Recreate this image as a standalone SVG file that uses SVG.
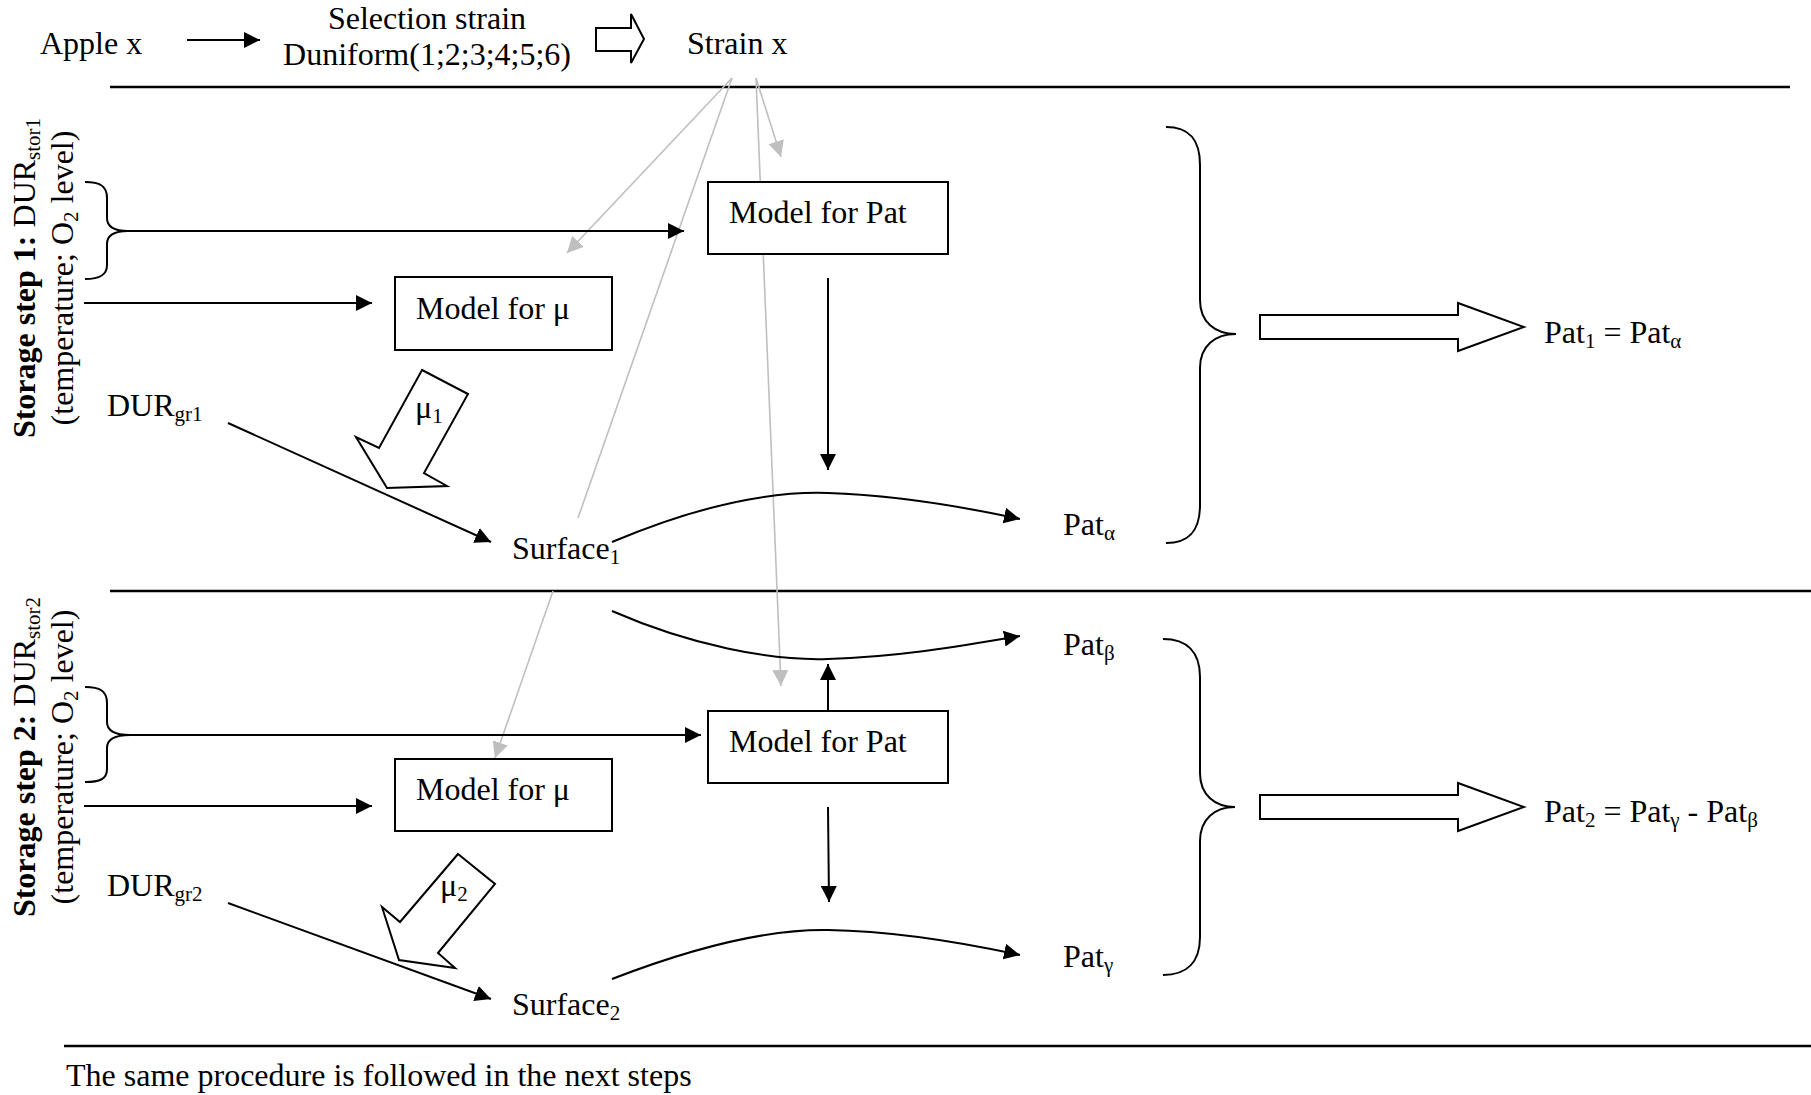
<svg xmlns="http://www.w3.org/2000/svg" width="1811" height="1095" viewBox="0 0 1811 1095">
  <style>
    text { font-family: "Liberation Serif", "Times New Roman", serif; font-size: 32px; fill: #000; }
    .sub { font-size: 21px; }
    .bold { font-weight: bold; }
    .box { fill: #fff; stroke: #000; stroke-width: 2; }
    .line { fill: none; stroke: #000; stroke-width: 2; }
    .rule { fill: none; stroke: #000; stroke-width: 2.5; }
    .grey { fill: none; stroke: #bfbfbf; stroke-width: 1.6; }
    .block { fill: #fff; stroke: #000; stroke-width: 2; stroke-linejoin: miter; }
    .brace { fill: none; stroke: #000; stroke-width: 2; }
  </style>
  <defs>
    <marker id="arrow" markerUnits="userSpaceOnUse" markerWidth="17" markerHeight="16" refX="16" refY="8" orient="auto">
      <path d="M0,0 L16,8 L0,16 z" fill="#000"/>
    </marker>
    <marker id="arrowGrey" markerUnits="userSpaceOnUse" markerWidth="17" markerHeight="16" refX="16" refY="8" orient="auto">
      <path d="M0,0 L16,8 L0,16 z" fill="#bfbfbf"/>
    </marker>
  </defs>
  <rect width="1811" height="1095" fill="#fff"/>

  <!-- section rules -->
  <g id="rules">
    <line class="rule" x1="110" y1="87" x2="1790" y2="87"/>
    <line class="rule" x1="110" y1="591" x2="1811" y2="591"/>
    <line class="rule" x1="64" y1="1046" x2="1811" y2="1046"/>
  </g>

  <!-- connectors -->
  <g id="connectors">
    <!-- strain links (grey) -->
    <line class="grey" x1="732" y1="78" x2="567" y2="253" marker-end="url(#arrowGrey)"/>
    <line class="grey" x1="732" y1="78" x2="578" y2="518"/>
    <line class="grey" x1="756" y1="78" x2="781" y2="157" marker-end="url(#arrowGrey)"/>
    <line class="grey" x1="756" y1="78" x2="781" y2="686" marker-end="url(#arrowGrey)"/>
    <line class="grey" x1="553" y1="591" x2="495" y2="758" marker-end="url(#arrowGrey)"/>

    <!-- header -->
    <line class="line" x1="187" y1="40" x2="260" y2="40" marker-end="url(#arrow)"/>

    <!-- storage step 1 -->
    <line class="line" x1="128" y1="231" x2="684" y2="231" marker-end="url(#arrow)"/>
    <line class="line" x1="84" y1="303" x2="372" y2="303" marker-end="url(#arrow)"/>
    <line class="line" x1="828" y1="278" x2="828" y2="470" marker-end="url(#arrow)"/>
    <line class="line" x1="228" y1="423" x2="491" y2="542" marker-end="url(#arrow)"/>
    <path class="line" d="M612,542 C700,505 770,491 828,493 C890,495 960,506 1020,519" marker-end="url(#arrow)"/>

    <!-- storage step 2 -->
    <path class="line" d="M612,611 C690,645 770,661 828,659 C900,657 960,646 1020,636" marker-end="url(#arrow)"/>
    <line class="line" x1="828" y1="711" x2="828" y2="664" marker-end="url(#arrow)"/>
    <line class="line" x1="130" y1="735" x2="701" y2="735" marker-end="url(#arrow)"/>
    <line class="line" x1="84" y1="806" x2="372" y2="806" marker-end="url(#arrow)"/>
    <line class="line" x1="828" y1="807" x2="829" y2="902" marker-end="url(#arrow)"/>
    <line class="line" x1="228" y1="903" x2="491" y2="999" marker-end="url(#arrow)"/>
    <path class="line" d="M612,979 C700,945 770,929 828,930 C890,931 960,942 1020,955" marker-end="url(#arrow)"/>
  </g>

  <!-- header nodes -->
  <g id="apple">
    <text x="40" y="54">Apple x</text>
  </g>
  <g id="selection">
    <text x="427" y="29" text-anchor="middle">Selection strain</text>
    <text x="427" y="65" text-anchor="middle">Duniform(1;2;3;4;5;6)</text>
  </g>
  <g id="selection-arrow">
    <polygon class="block" points="596,28 631,28 631,14 644,39 631,63 631,51 596,51"/>
  </g>
  <g id="strain">
    <text x="687" y="54">Strain x</text>
  </g>

  <!-- storage step 1 -->
  <g id="step1-label">
    <text transform="translate(35,278) rotate(-90)" text-anchor="middle"><tspan class="bold">Storage step 1:</tspan> DUR<tspan class="sub" dy="5">stor1</tspan></text>
    <text transform="translate(73,278) rotate(-90)" text-anchor="middle">(temperature; O<tspan class="sub" dy="5">2</tspan><tspan dy="-5"> level)</tspan></text>
  </g>
  <g id="step1-brace">
    <path class="brace" d="M85,182 C100,182 107,186 107,198 L107,218 C107,227 115,231 128,231 C115,231 107,235 107,244 L107,265 C107,275 100,279 85,279"/>
  </g>
  <g id="step1-model-pat">
    <rect class="box" x="708" y="182" width="240" height="72"/>
    <text x="729" y="223">Model for Pat</text>
  </g>
  <g id="step1-model-mu">
    <rect class="box" x="395" y="277" width="217" height="73"/>
    <text x="416" y="319">Model for μ</text>
  </g>
  <g id="step1-durgr">
    <text x="107" y="416">DUR<tspan class="sub" dy="5">gr1</tspan></text>
  </g>
  <g id="step1-mu">
    <polygon class="block" points="422,370 468,394 424,473 447,486 387,488 356,437 379,448"/>
    <text x="415" y="418">μ<tspan class="sub" dy="5">1</tspan></text>
  </g>
  <g id="step1-surface">
    <text x="512" y="559">Surface<tspan class="sub" dy="5">1</tspan></text>
  </g>
  <g id="step1-pat-alpha">
    <text x="1063" y="535">Pat<tspan class="sub" dy="5">α</tspan></text>
  </g>
  <g id="step1-result">
    <path class="brace" d="M1166,127 C1190,127 1200,140 1200,165 L1200,300 C1200,322 1215,334 1236,334 C1215,334 1200,346 1200,368 L1200,505 C1200,530 1190,543 1166,543"/>
    <polygon class="block" points="1260,315 1458,315 1458,303 1524,327 1458,351 1458,339 1260,339"/>
    <text x="1544" y="343">Pat<tspan class="sub" dy="5">1</tspan><tspan dy="-5"> = Pat</tspan><tspan class="sub" dy="5">α</tspan></text>
  </g>

  <!-- storage step 2 -->
  <g id="step2-label">
    <text transform="translate(35,757) rotate(-90)" text-anchor="middle"><tspan class="bold">Storage step 2:</tspan> DUR<tspan class="sub" dy="5">stor2</tspan></text>
    <text transform="translate(73,757) rotate(-90)" text-anchor="middle">(temperature; O<tspan class="sub" dy="5">2</tspan><tspan dy="-5"> level)</tspan></text>
  </g>
  <g id="step2-brace">
    <path class="brace" d="M85,687 C100,687 107,691 107,703 L107,722 C107,731 115,735 130,735 C115,735 107,739 107,748 L107,769 C107,779 100,782 85,782"/>
  </g>
  <g id="step2-pat-beta">
    <text x="1063" y="655">Pat<tspan class="sub" dy="5">β</tspan></text>
  </g>
  <g id="step2-model-pat">
    <rect class="box" x="708" y="711" width="240" height="72"/>
    <text x="729" y="752">Model for Pat</text>
  </g>
  <g id="step2-model-mu">
    <rect class="box" x="395" y="759" width="217" height="72"/>
    <text x="416" y="800">Model for μ</text>
  </g>
  <g id="step2-durgr">
    <text x="107" y="896">DUR<tspan class="sub" dy="5">gr2</tspan></text>
  </g>
  <g id="step2-mu">
    <polygon class="block" points="458,854 495,884 438,953 455,968 399,960 382,907 400,922"/>
    <text x="440" y="896">μ<tspan class="sub" dy="5">2</tspan></text>
  </g>
  <g id="step2-surface">
    <text x="512" y="1015">Surface<tspan class="sub" dy="5">2</tspan></text>
  </g>
  <g id="step2-pat-gamma">
    <text x="1063" y="967">Pat<tspan class="sub" dy="5">γ</tspan></text>
  </g>
  <g id="step2-result">
    <path class="brace" d="M1163,639 C1187,639 1200,652 1200,677 L1200,773 C1200,795 1215,807 1235,807 C1215,807 1200,819 1200,841 L1200,937 C1200,962 1187,975 1163,975"/>
    <polygon class="block" points="1260,795 1458,795 1458,783 1524,807 1458,831 1458,819 1260,819"/>
    <text x="1544" y="822">Pat<tspan class="sub" dy="5">2</tspan><tspan dy="-5"> = Pat</tspan><tspan class="sub" dy="5">γ</tspan><tspan dy="-5"> - Pat</tspan><tspan class="sub" dy="5">β</tspan></text>
  </g>

  <!-- footer -->
  <g id="footer">
    <text x="66" y="1086">The same procedure is followed in the next steps</text>
  </g>
</svg>
